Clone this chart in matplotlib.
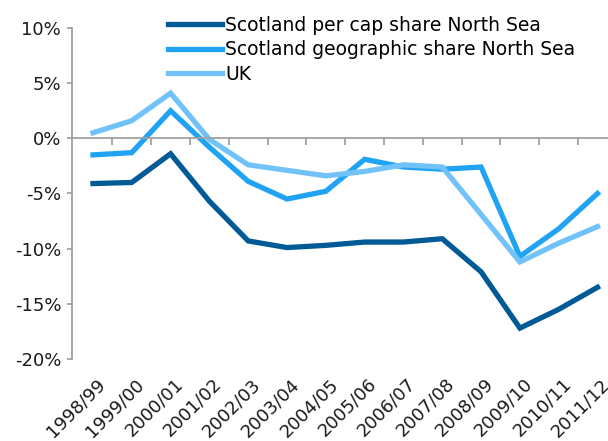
import matplotlib.pyplot as plt

years = ["1998/99", "1999/00", "2000/01", "2001/02", "2002/03", "2003/04", "2004/05",
         "2005/06", "2006/07", "2007/08", "2008/09", "2009/10", "2010/11", "2011/12"]
per_cap = [-4.1, -4.0, -1.4, -5.7, -9.3, -9.9, -9.7, -9.4, -9.4, -9.1, -12.1, -17.2, -15.5, -13.5]
geographic = [-1.5, -1.3, 2.5, -0.8, -3.9, -5.5, -4.8, -1.9, -2.6, -2.8, -2.6, -10.7, -8.2, -5.0]
uk = [0.5, 1.6, 4.1, -0.1, -2.4, -2.9, -3.4, -3.0, -2.4, -2.6, -6.9, -11.2, -9.5, -8.0]
y_ticks = [10, 5, 0, -5, -10, -15, -20]

plt.rcParams['font.family'] = ['DejaVu Sans']
fig = plt.figure(figsize=(6.08, 4.41), dpi=100)
ax = fig.add_axes([72 / 608, 1 - 359 / 441, 1 - 72 / 608, 331 / 441])

x = list(range(len(years)))
l1, = ax.plot(x, per_cap, color='#005a96', lw=3.8, solid_joinstyle='miter')
l2, = ax.plot(x, geographic, color='#21a3f3', lw=3.8, solid_joinstyle='miter')
l3, = ax.plot(x, uk, color='#70c2f8', lw=3.8, solid_joinstyle='miter')

ax.set_ylim(-20, 10)
ax.set_xlim(-0.54, 13.27)
ax.set_yticks(y_ticks)
ax.set_yticklabels([f"{v}%" for v in y_ticks], fontsize=13, color='#1a1a1a')

for s in ['top', 'right']:
    ax.spines[s].set_visible(False)
ax.spines['left'].set_color('#a0a0a0')
ax.spines['bottom'].set_color('#a0a0a0')
ax.spines['left'].set_linewidth(1.3)
ax.spines['bottom'].set_linewidth(1.3)
ax.spines['bottom'].set_position(('data', 0))

ax.set_xticks([i + 0.5 for i in range(len(years) - 1)])
ax.set_xticklabels([])
ax.tick_params(axis='x', direction='out', length=5, width=1.3, color='#a0a0a0')
ax.tick_params(axis='y', direction='out', length=3.8, width=1.3, color='#a0a0a0', pad=4)

for i, lab in enumerate(years):
    ax.annotate(lab, xy=(i, 0), xycoords=('data', 'axes fraction'),
                xytext=(3, -16), textcoords='offset pixels',
                rotation=45, rotation_mode='anchor', ha='right', va='top',
                fontsize=13, color='#1a1a1a')

fig.legend([l1, l2, l3],
           ["Scotland per cap share North Sea", "Scotland geographic share North Sea", "UK"],
           loc='upper left', bbox_to_anchor=(168 / 608, 1 - 16 / 441),
           frameon=False, fontsize=13.5, handlelength=2.9, handletextpad=0.15,
           labelspacing=0.28, borderpad=0, borderaxespad=0)

fig.savefig("out.png", dpi=100)
